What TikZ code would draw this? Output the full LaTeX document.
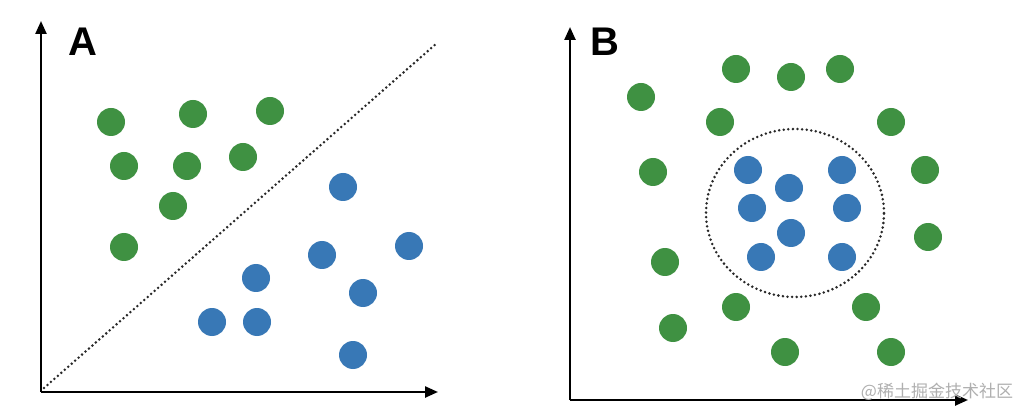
\documentclass[tikz,border=0pt]{standalone}
\usepackage{fontspec}
\newfontfamily\labfont{Liberation Sans}
\newfontfamily\cjk{Noto Sans CJK SC}
\usetikzlibrary{arrows.meta,shapes.geometric}
\definecolor{dotgreen}{RGB}{63,145,66}
\definecolor{dotblue}{RGB}{56,120,182}
\definecolor{wmgrey}{RGB}{175,175,175}
\definecolor{dotdark}{RGB}{40,40,40}
\tikzset{
  gdot/.style={circle,fill=dotgreen,inner sep=0pt,minimum size=28pt},
  bdot/.style={circle,fill=dotblue,inner sep=0pt,minimum size=28pt},
  axis/.style={line width=2.4pt,-{Triangle[length=13pt,width=11pt]}},
  dotline/.style={draw=dotdark,line width=2.8pt,line cap=round,dash pattern=on 0pt off 4.6pt},
  panellabel/.style={font=\labfont\bfseries\fontsize{40}{40}\selectfont,inner sep=0pt}
}
\begin{document}
\begin{tikzpicture}[x=1pt,y=-1pt]
\useasboundingbox[fill=white] (0,0) rectangle (1024,419);
% Panel A
\coordinate (oA) at (41,392);
\coordinate (sA) at (44,388);
\coordinate (yA) at (41,21);
\coordinate (xA) at (438,392);
\coordinate (dA) at (437,43);
\draw[dotline] (sA) -- (dA);
\draw[axis] (oA) -- (yA);
\draw[axis] (oA) -- (xA);
\node[panellabel] (labA) at (83,42) {A};
\node[gdot] (ga1) at (111,122) {};
\node[gdot] (ga2) at (193,114) {};
\node[gdot] (ga3) at (270,111) {};
\node[gdot] (ga4) at (124,166) {};
\node[gdot] (ga5) at (187,166) {};
\node[gdot] (ga6) at (243,157) {};
\node[gdot] (ga7) at (173,206) {};
\node[gdot] (ga8) at (124,247) {};
\node[bdot] (ba1) at (343,187) {};
\node[bdot] (ba2) at (409,246) {};
\node[bdot] (ba3) at (322,255) {};
\node[bdot] (ba4) at (256,278) {};
\node[bdot] (ba5) at (363,293) {};
\node[bdot] (ba6) at (212,322) {};
\node[bdot] (ba7) at (257,322) {};
\node[bdot] (ba8) at (353,355) {};
% Panel B
\coordinate (oB) at (570,400);
\coordinate (yB) at (570,27);
\coordinate (xB) at (968,400);
\draw[axis] (oB) -- (yB);
\draw[axis] (oB) -- (xB);
\node[panellabel] (labB) at (605,42) {B};
\node[dotline,ellipse,minimum width=178pt,minimum height=168pt,inner sep=0pt] (ring) at (795,213) {};
\node[gdot] (gb1) at (641,97) {};
\node[gdot] (gb2) at (736,69) {};
\node[gdot] (gb3) at (791,77) {};
\node[gdot] (gb4) at (840,69) {};
\node[gdot] (gb5) at (720,122) {};
\node[gdot] (gb6) at (891,122) {};
\node[gdot] (gb7) at (653,172) {};
\node[gdot] (gb8) at (925,170) {};
\node[gdot] (gb9) at (665,262) {};
\node[gdot] (gb10) at (928,237) {};
\node[gdot] (gb11) at (736,307) {};
\node[gdot] (gb12) at (866,307) {};
\node[gdot] (gb13) at (673,328) {};
\node[gdot] (gb14) at (785,352) {};
\node[gdot] (gb15) at (891,352) {};
\node[bdot] (bb1) at (748,170) {};
\node[bdot] (bb2) at (842,170) {};
\node[bdot] (bb3) at (789,188) {};
\node[bdot] (bb4) at (752,208) {};
\node[bdot] (bb5) at (847,208) {};
\node[bdot] (bb6) at (791,233) {};
\node[bdot] (bb7) at (761,257) {};
\node[bdot] (bb8) at (842,257) {};
% watermark
\node[text=wmgrey,font=\cjk\fontsize{17}{17}\selectfont,inner sep=0pt] (wm) at (937,392) {@稀土掘金技术社区};
\end{tikzpicture}
\end{document}
